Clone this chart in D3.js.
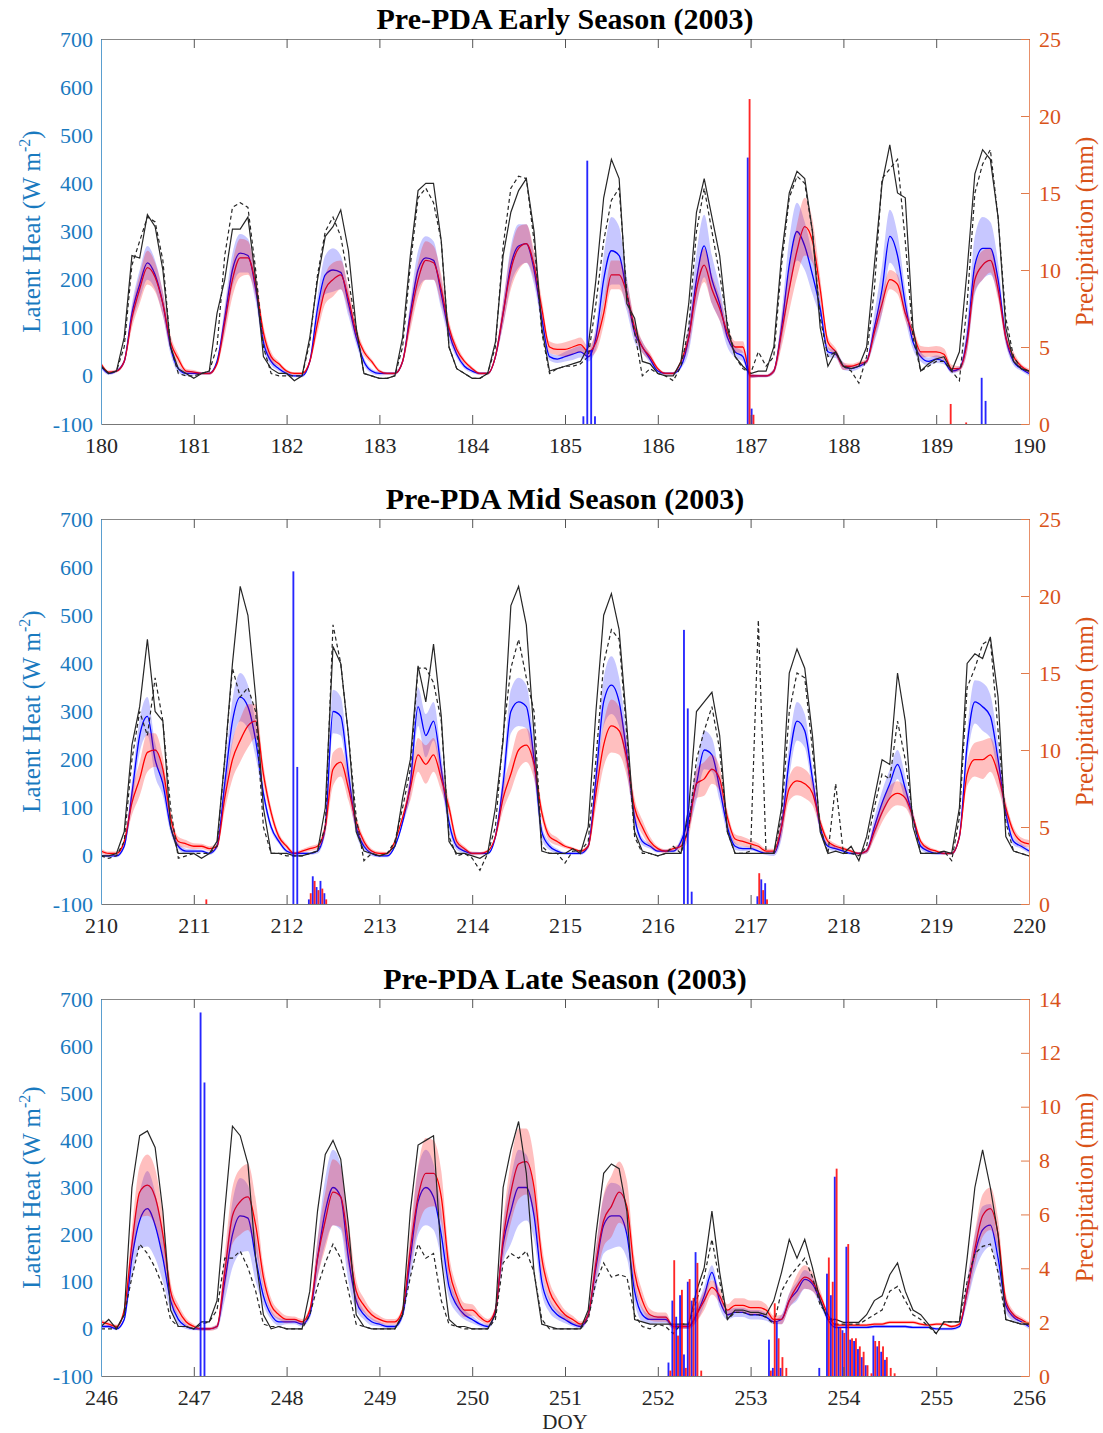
<!DOCTYPE html>
<html>
<head>
<meta charset="utf-8">
<script src="https://cdn.jsdelivr.net/npm/d3@7"></script>
<style>
  body { margin: 0; background: #fff; }
  svg text { font-family: "Liberation Serif", "Times New Roman", serif; }
</style>
</head>
<body>
<div id="chart"></div>
<script>
// ---- data: 2-hourly samples, 12 per day + closing point ----
const p1Title = "Pre-PDA Early Season (2003)";
const p1Obs = [
  20, 5, 10, 80, 250, 245, 335, 310, 220, 60, 15, 5,
  -5, 5, 10, 130, 200, 305, 305, 330, 200, 40, 15, 5,
  5, -10, 0, 80, 200, 290, 310, 345, 260, 100, 5, 0,
  -5, -5, 0, 80, 250, 385, 400, 400, 280, 60, 15, 5,
  -5, -5, 5, 70, 250, 340, 385, 410, 300, 100, 10, 15,
  20, 25, 30, 60, 200, 370, 450, 410, 150, 120, 30, 25,
  5, 0, 0, 30, 150, 340, 410, 330, 250, 100, 40, 20,
  5, 10, 10, 60, 250, 380, 425, 410, 300, 100, 20, 50,
  20, 15, 20, 60, 230, 400, 480, 380, 370, 100, 10, 25,
  35, 40, 10, 50, 220, 420, 470, 450, 330, 100, 30, 15,
  10];
const p1Dash = [
  20, 5, 10, 60, 230, 280, 330, 320, 240, 60, 5, 0,
  0, 5, 10, 60, 250, 350, 360, 350, 220, 60, 5, 0,
  0, 0, 0, 70, 210, 300, 330, 290, 200, 100, 5, 0,
  -5, -5, 0, 60, 230, 370, 390, 360, 280, 60, 15, 5,
  -5, -5, 5, 60, 270, 390, 415, 410, 280, 90, 5, 15,
  20, 20, 25, 40, 150, 280, 365, 390, 170, 90, 0, 15,
  5, 0, -10, 20, 100, 300, 390, 300, 210, 110, 40, 15,
  5, 50, 20, 40, 230, 370, 415, 400, 300, 120, 40, 50,
  20, 10, -15, 40, 180, 410, 430, 450, 280, 80, 10, 20,
  30, 30, 10, -10, 150, 380, 440, 470, 330, 120, 40, 15,
  10];
const p1Blue = [
  20, 5, 10, 30, 130, 190, 235, 210, 150, 60, 15, 5,
  5, 5, 5, 30, 120, 220, 255, 250, 180, 70, 30, 15,
  5, 0, 0, 30, 140, 210, 220, 215, 150, 80, 30, 10,
  5, 5, 5, 30, 130, 220, 245, 240, 170, 90, 45, 20,
  10, 5, 5, 40, 130, 230, 270, 275, 220, 120, 40, 35,
  40, 45, 50, 40, 80, 200, 260, 250, 170, 90, 60, 35,
  10, 5, 5, 20, 80, 200, 270, 200, 150, 80, 50, 40,
  0, 0, 0, 10, 100, 230, 300, 270, 210, 140, 50, 45,
  20, 15, 20, 30, 100, 180, 290, 250, 150, 70, 40, 30,
  35, 30, 10, 15, 80, 230, 265, 265, 200, 80, 30, 15,
  5];
const p1Red = [
  25, 8, 10, 30, 120, 180, 225, 205, 150, 70, 35, 10,
  8, 5, 5, 25, 110, 200, 245, 245, 190, 90, 40, 25,
  10, 5, 5, 30, 110, 180, 200, 210, 160, 90, 50, 30,
  10, 5, 5, 30, 120, 200, 240, 235, 180, 100, 55, 30,
  15, 5, 5, 40, 130, 220, 265, 275, 230, 140, 60, 55,
  55, 60, 65, 50, 70, 130, 210, 210, 170, 100, 60, 40,
  15, 5, 5, 30, 80, 180, 230, 180, 140, 90, 60, 60,
  0, 0, 0, 10, 90, 180, 260, 310, 280, 180, 70, 50,
  20, 20, 25, 30, 90, 150, 200, 190, 130, 90, 50, 50,
  50, 45, 15, 15, 70, 200, 230, 240, 180, 80, 40, 20,
  10];
const p1BlueSd = [
  5, 3, 3, 5, 20, 30, 35, 30, 25, 15, 8, 5,
  4, 3, 3, 5, 25, 35, 40, 35, 25, 15, 8, 5,
  4, 3, 3, 5, 25, 40, 45, 35, 25, 15, 8, 5,
  4, 3, 3, 5, 25, 40, 45, 40, 30, 15, 8, 5,
  4, 3, 3, 5, 25, 40, 45, 40, 30, 15, 8, 8,
  10, 12, 12, 10, 25, 50, 70, 60, 35, 20, 12, 8,
  4, 3, 3, 5, 30, 55, 65, 50, 35, 20, 12, 10,
  5, 3, 3, 5, 30, 55, 60, 50, 40, 20, 10, 8,
  8, 5, 5, 5, 30, 50, 55, 45, 30, 15, 10, 8,
  8, 6, 5, 5, 30, 60, 65, 55, 35, 15, 8, 5,
  5];
const p1RedSd = [
  5, 3, 3, 5, 20, 30, 35, 30, 25, 15, 10, 5,
  4, 3, 3, 5, 25, 35, 40, 35, 25, 15, 10, 5,
  4, 3, 3, 5, 20, 30, 35, 30, 25, 15, 8, 5,
  4, 3, 3, 5, 25, 35, 40, 35, 30, 15, 10, 5,
  4, 3, 3, 5, 25, 40, 45, 40, 30, 20, 12, 12,
  15, 15, 15, 12, 20, 25, 30, 30, 25, 18, 12, 8,
  4, 3, 3, 5, 20, 30, 35, 30, 25, 15, 12, 12,
  5, 3, 3, 5, 30, 45, 55, 60, 45, 25, 12, 8,
  8, 5, 5, 5, 15, 20, 20, 20, 15, 12, 12, 10,
  12, 12, 8, 5, 20, 25, 30, 25, 20, 12, 10, 5,
  5];
const p1RainBlueT = [185.208, 185.25, 185.292, 185.333, 186.979, 187.021, 189.5, 189.542];
const p1RainBlueV = [0.5, 17.1, 4.8, 0.5, 17.3, 1.0, 3.0, 1.5];
const p1RainRedT = [186.979, 187.021, 189.146, 189.313];
const p1RainRedV = [21.1, 0.6, 1.3, 0.1];

const p2Title = "Pre-PDA Mid Season (2003)";
const p2Obs = [
  0, 0, 5, 50, 230, 310, 450, 300, 280, 60, 5, 5,
  5, -5, 5, 30, 200, 400, 560, 500, 330, 100, 5, 5,
  5, 0, 0, 5, 10, 100, 435, 400, 250, 50, 10, 5,
  0, 5, 20, 120, 200, 395, 320, 440, 290, 30, 5, 5,
  0, -5, 5, 100, 240, 520, 560, 480, 250, 10, 5, 5,
  5, 15, 5, 60, 300, 500, 545, 470, 270, 50, 10, 5,
  0, 5, 5, 5, 100, 300, 320, 340, 250, 50, 5, 5,
  5, 5, 5, 5, 100, 380, 430, 390, 250, 50, 5, 10,
  5, 20, -10, 40, 120, 200, 190, 380, 280, 60, 5, 5,
  5, 10, 5, 100, 400, 420, 410, 455, 330, 40, 10, 5,
  0];
const p2Dash = [
  0, -5, 0, 30, 200, 300, 250, 370, 280, 100, -5, 0,
  5, 5, 5, 20, 200, 390, 330, 350, 300, 60, 5, 5,
  0, 0, 0, 5, 10, 60, 480, 400, 250, 80, -10, 5,
  0, 5, 30, 100, 180, 390, 390, 360, 280, 40, 0, 5,
  -5, -30, 5, 60, 250, 390, 450, 370, 300, 20, 5, 5,
  -15, 10, 10, 30, 200, 400, 470, 450, 250, 40, 5, 5,
  0, 5, 20, 5, 60, 200, 260, 310, 220, 50, 5, 5,
  10, 490, 5, 5, 80, 300, 380, 370, 220, 60, 5, 150,
  5, 5, 0, 20, 100, 170, 160, 280, 200, 80, 5, 5,
  5, 10, -10, 80, 350, 390, 440, 450, 260, 70, 10, 5,
  0];
const p2Blue = [
  0, 0, 0, 20, 130, 250, 290, 200, 150, 60, 20, 10,
  10, 10, 5, 20, 150, 280, 330, 310, 240, 130, 60, 30,
  10, 5, 5, 5, 10, 60, 300, 290, 170, 60, 20, 5,
  0, 0, 20, 70, 150, 310, 250, 280, 180, 70, 20, 10,
  5, 5, 5, 40, 150, 300, 320, 310, 200, 50, 20, 10,
  5, 5, 5, 20, 160, 320, 355, 320, 210, 80, 30, 20,
  10, 10, 10, 30, 80, 150, 220, 210, 140, 60, 20, 15,
  15, 10, 5, 5, 60, 200, 280, 260, 160, 60, 20, 15,
  10, 5, 5, 10, 60, 110, 150, 190, 140, 80, 20, 10,
  5, 5, 5, 40, 230, 320, 310, 290, 200, 90, 30, 20,
  10];
const p2Red = [
  10, 5, 5, 30, 110, 160, 215, 220, 180, 80, 30, 25,
  20, 20, 15, 20, 120, 200, 240, 270, 280, 170, 90, 40,
  20, 5, 10, 15, 20, 60, 180, 195, 140, 70, 30, 10,
  5, 5, 30, 80, 140, 210, 190, 210, 160, 100, 30, 15,
  5, 5, 10, 40, 120, 170, 220, 230, 190, 90, 40, 30,
  20, 15, 10, 20, 130, 230, 270, 260, 200, 100, 60, 30,
  15, 10, 15, 20, 60, 150, 160, 180, 160, 80, 35, 30,
  25, 20, 10, 10, 60, 140, 156, 150, 130, 70, 30, 20,
  15, 10, 5, 10, 50, 90, 120, 130, 120, 80, 30, 15,
  10, 5, 5, 40, 170, 200, 200, 210, 170, 100, 50, 30,
  25];
const p2BlueSd = [
  3, 3, 3, 5, 25, 35, 40, 35, 25, 12, 6, 5,
  4, 3, 3, 5, 30, 45, 50, 45, 35, 15, 8, 5,
  4, 3, 3, 3, 5, 15, 45, 40, 30, 15, 8, 5,
  3, 3, 3, 5, 25, 40, 45, 40, 30, 15, 8, 5,
  3, 3, 3, 5, 30, 45, 50, 45, 35, 15, 8, 5,
  3, 3, 3, 5, 30, 50, 60, 50, 35, 15, 8, 5,
  3, 3, 3, 10, 25, 35, 40, 35, 25, 15, 8, 5,
  4, 3, 3, 5, 25, 35, 40, 35, 25, 12, 6, 5,
  3, 3, 3, 5, 20, 25, 30, 30, 25, 12, 6, 5,
  3, 3, 3, 5, 30, 45, 50, 45, 35, 15, 8, 5,
  5];
const p2RedSd = [
  5, 4, 4, 5, 25, 35, 40, 35, 25, 15, 10, 8,
  6, 5, 5, 5, 25, 40, 45, 45, 35, 20, 12, 8,
  5, 4, 4, 5, 5, 15, 35, 30, 25, 15, 8, 5,
  4, 3, 3, 5, 25, 35, 40, 35, 25, 15, 10, 5,
  4, 3, 3, 5, 25, 35, 40, 35, 30, 15, 10, 8,
  4, 3, 3, 5, 30, 45, 55, 50, 35, 20, 15, 10,
  5, 4, 4, 8, 20, 30, 35, 30, 25, 15, 10, 10,
  8, 6, 5, 5, 20, 25, 30, 30, 25, 12, 8, 5,
  4, 3, 3, 5, 15, 20, 25, 25, 20, 12, 6, 5,
  3, 3, 3, 5, 25, 35, 40, 35, 30, 15, 10, 8,
  8];
const p2RainBlueT = [212.083, 212.125, 212.25, 212.292, 212.333, 212.375, 212.417, 216.292, 216.333, 216.375, 217.083, 217.125, 217.167];
const p2RainBlueV = [21.6, 8.9, 0.3, 1.8, 1.1, 1.5, 0.7, 17.8, 12.7, 0.8, 0.5, 1.6, 1.35];
const p2RainRedT = [211.125, 212.25, 212.292, 212.333, 212.375, 212.417, 217.083, 217.125, 217.167];
const p2RainRedV = [0.3, 0.7, 1.5, 0.9, 1.0, 0.3, 2.0, 0.9, 0.3];

const p3Title = "Pre-PDA Late Season (2003)";
const p3Obs = [
  5, 20, 0, 30, 300, 410, 420, 385, 250, 40, 5, 5,
  0, 15, 15, 60, 250, 430, 410, 350, 150, 30, 0, 5,
  0, 0, 0, 80, 250, 370, 400, 360, 220, 30, 5, 0,
  0, 0, 0, 30, 250, 390, 400, 410, 150, 20, 5, 5,
  0, 0, 0, 30, 300, 380, 440, 330, 120, 10, 5, 0,
  0, 0, 0, 40, 200, 330, 350, 340, 250, 20, 15, 10,
  10, 10, 10, 10, 10, 80, 130, 250, 120, 20, 40, 40,
  35, 35, 30, 60, 120, 190, 150, 190, 130, 60, 20, 20,
  14, 14, 14, 30, 60, 70, 115, 140, 80, 40, 30, 10,
  -10, 15, 15, 15, 150, 300, 380, 300, 200, 20, 15, 10,
  10];
const p3Dash = [
  0, 0, 0, 30, 110, 180, 160, 130, 90, 20, 5, 5,
  0, 10, 15, 40, 150, 150, 165, 130, 80, 10, 5, 5,
  0, 0, 0, 30, 90, 140, 180, 150, 80, 10, 5, 0,
  0, 0, 0, 30, 110, 180, 150, 160, 60, 10, 5, 0,
  0, 0, 0, 20, 140, 160, 150, 165, 120, 20, 0, 0,
  0, 0, 0, 20, 100, 140, 110, 115, 110, 30, 5, 0,
  10, 5, -10, 10, 10, 60, 110, 190, 100, 20, 35, 35,
  30, 30, 25, 10, 80, 110, 130, 150, 110, 50, 30, 10,
  10, 10, 10, 20, 30, 40, 80, 90, 60, 30, 20, 5,
  -10, 15, 15, 15, 100, 160, 175, 180, 120, 20, 15, 10,
  10];
const p3Blue = [
  5, 5, 0, 20, 150, 230, 255, 220, 150, 60, 20, 5,
  0, 0, 0, 5, 100, 200, 240, 235, 150, 70, 30, 15,
  15, 15, 10, 30, 150, 250, 300, 280, 150, 60, 30, 15,
  10, 5, 5, 30, 150, 270, 300, 280, 200, 90, 50, 30,
  20, 10, 5, 40, 180, 250, 300, 300, 240, 100, 50, 30,
  20, 10, 5, 30, 130, 220, 240, 240, 200, 80, 30, 20,
  20, 20, 5, 5, 5, 30, 70, 120, 60, 30, 35, 35,
  30, 30, 25, 15, 20, 60, 80, 105, 95, 60, 20, 3,
  3, 3, 3, 3, 5, 5, 5, 5, 5, 3, 3, 3,
  0, 0, 0, 5, 80, 160, 210, 220, 150, 50, 25, 15,
  5];
const p3Red = [
  15, 10, 5, 40, 180, 290, 305, 280, 200, 80, 40, 15,
  5, 0, 0, 5, 120, 240, 270, 280, 220, 110, 50, 30,
  20, 20, 15, 40, 150, 230, 290, 280, 180, 80, 50, 30,
  20, 15, 15, 40, 170, 280, 330, 330, 280, 130, 70, 40,
  40, 25, 15, 40, 190, 290, 350, 355, 300, 150, 80, 50,
  30, 20, 10, 30, 140, 230, 260, 290, 260, 120, 60, 30,
  25, 25, 5, 5, 5, 30, 60, 88, 70, 40, 50, 50,
  45, 45, 40, 20, 20, 60, 90, 110, 100, 70, 30, 8,
  8, 8, 8, 8, 10, 10, 14, 14, 14, 14, 10, 8,
  10, 10, 5, 10, 80, 170, 240, 255, 200, 60, 30, 20,
  10];
const p3BlueSd = [
  3, 3, 3, 5, 40, 60, 80, 70, 50, 20, 10, 5,
  3, 3, 3, 5, 40, 70, 80, 70, 50, 20, 10, 8,
  5, 5, 5, 8, 40, 70, 80, 70, 50, 20, 10, 8,
  5, 4, 4, 8, 40, 70, 80, 70, 50, 25, 15, 10,
  8, 5, 5, 8, 40, 70, 80, 70, 50, 25, 15, 10,
  8, 5, 5, 8, 40, 60, 70, 65, 50, 25, 15, 10,
  8, 8, 5, 5, 5, 15, 20, 15, 15, 10, 10, 10,
  10, 10, 8, 5, 10, 15, 20, 20, 15, 10, 5, 3,
  3, 3, 3, 3, 3, 3, 3, 3, 3, 3, 3, 3,
  3, 3, 3, 3, 25, 40, 50, 45, 35, 15, 8, 5,
  5];
const p3RedSd = [
  5, 4, 4, 8, 35, 55, 65, 60, 45, 20, 12, 8,
  5, 4, 4, 5, 40, 60, 70, 70, 55, 25, 15, 10,
  8, 6, 6, 8, 40, 60, 70, 65, 50, 25, 15, 10,
  8, 6, 6, 8, 40, 65, 75, 70, 55, 30, 20, 15,
  12, 8, 6, 8, 40, 65, 75, 70, 60, 30, 20, 15,
  10, 8, 6, 8, 35, 55, 65, 65, 55, 30, 20, 12,
  10, 10, 5, 5, 5, 15, 20, 15, 15, 12, 15, 15,
  15, 15, 12, 8, 10, 15, 25, 25, 20, 12, 5, 3,
  3, 3, 3, 3, 3, 3, 3, 3, 3, 3, 3, 3,
  3, 3, 3, 3, 20, 35, 45, 45, 35, 15, 8, 5,
  5];
const p3RainBlueT = [247.083, 247.125, 252.125, 252.167, 252.208, 252.25, 252.292, 252.333, 252.375, 252.417,
  253.208, 253.25, 253.292, 253.333, 253.75, 253.833, 253.875, 253.917, 253.958, 254.0, 254.042, 254.083,
  254.125, 254.167, 254.208, 254.25, 254.333, 254.375, 254.417, 254.458];
const p3RainBlueV = [13.5, 10.9, 0.5, 2.8, 2.2, 3.0, 0.8, 3.5, 2.8, 4.6,
  1.35, 0.3, 2.0, 0.3, 0.3, 3.8, 3.0, 7.4, 1.8, 1.7, 4.8, 1.35,
  1.3, 1.0, 0.7, 0.4, 1.5, 1.1, 0.9, 0.6];
const p3RainRedT = [252.125, 252.167, 252.208, 252.25, 252.292, 252.333, 252.375, 252.417, 252.458,
  253.208, 253.25, 253.292, 253.333, 253.375, 253.833, 253.875, 253.917, 253.958, 254.0, 254.042, 254.083,
  254.125, 254.167, 254.208, 254.25, 254.292, 254.333, 254.375, 254.417, 254.458, 254.5, 254.542];
const p3RainRedV = [0.2, 4.3, 1.5, 3.2, 0.3, 3.6, 2.9, 4.2, 0.2,
  0.2, 2.7, 1.4, 0.7, 0.3, 4.4, 3.5, 7.7, 1.8, 1.6, 4.9, 1.4,
  1.4, 1.1, 0.9, 0.4, 0.1, 1.3, 1.3, 1.1, 0.7, 0.3, 0.1];

const lhTicks = [-100, 0, 100, 200, 300, 400, 500, 600, 700];
const rainTicks25 = [0, 5, 10, 15, 20, 25];
const rainTicks14 = [0, 2, 4, 6, 8, 10, 12, 14];

// ---- drawing ----
const serif = '"Liberation Serif", "Times New Roman", serif';
const leftAxisColor = "#1a7abf";
const rightAxisColor = "#d95319";
const plotLeft = 101, plotRight = 1029;

const svg = d3.select("#chart")
    .append("svg")
        .attr("width", 1103)
        .attr("height", 1433);

const drawPanel = (p, idx) => {
    const x = d3.scaleLinear()
        .domain([p.start, p.start + 10])
        .range([plotLeft, plotRight]);

    const y = d3.scaleLinear()
        .domain([-100, 700])
        .range([p.bottom, p.top]);

    const yRain = d3.scaleLinear()
        .domain([0, d3.max(p.rainTicks)])
        .range([p.bottom, p.top]);

    const times = d3.range(p.obs.length).map(i => p.start + i / 12);
    const g = svg.append("g");

    const clipId = `clip${idx}`;
    g.append("clipPath")
        .attr("id", clipId)
      .append("rect")
        .attr("x", plotLeft)
        .attr("y", p.top)
        .attr("width", plotRight - plotLeft)
        .attr("height", p.bottom - p.top);

    const plot = g.append("g").attr("clip-path", `url(#${clipId})`);

    const line = vals => d3.line()
        .x((d, i) => x(times[i]))
        .y(d => y(d))(vals);

    const smooth = vals => d3.line()
        .x((d, i) => x(times[i]))
        .y(d => y(d))
        .curve(d3.curveMonotoneX)(vals);

    const band = (vals, sd) => d3.area()
        .x((d, i) => x(times[i]))
        .y0((d, i) => y(d - sd[i]))
        .y1((d, i) => y(d + sd[i]))
        .curve(d3.curveMonotoneX)(vals);

    plot.append("path")
        .attr("d", smooth(p.blue))
        .attr("fill", "none")
        .attr("stroke", "#0000ff")
        .attr("stroke-width", 1.3);

    plot.append("path")
        .attr("d", smooth(p.red))
        .attr("fill", "none")
        .attr("stroke", "#ff0000")
        .attr("stroke-width", 1.3);

    plot.append("path")
        .attr("d", band(p.blue, p.blueSd))
        .attr("fill", "#0000ff")
        .attr("fill-opacity", 0.22);

    plot.append("path")
        .attr("d", band(p.red, p.redSd))
        .attr("fill", "#ff0000")
        .attr("fill-opacity", 0.25);

    plot.append("path")
        .attr("d", line(p.obs))
        .attr("fill", "none")
        .attr("stroke", "#262626")
        .attr("stroke-width", 1.2);

    plot.append("path")
        .attr("d", line(p.dash))
        .attr("fill", "none")
        .attr("stroke", "#262626")
        .attr("stroke-width", 1.2)
        .attr("stroke-dasharray", "4,3");

    // precipitation bars, blue left and red right of each hourly slot
    const slotW = (x(p.start + 1 / 24) - x(p.start)) * 0.48;

    plot.selectAll(".rainBlue")
        .data(p.rainBlueT.map((t, i) => ({ t, v: p.rainBlueV[i] })))
        .enter().append("rect")
            .attr("x", d => x(d.t) - slotW)
            .attr("y", d => yRain(d.v))
            .attr("width", slotW)
            .attr("height", d => yRain(0) - yRain(d.v))
            .attr("fill", "#0000ff")
            .attr("fill-opacity", 0.85);

    plot.selectAll(".rainRed")
        .data(p.rainRedT.map((t, i) => ({ t, v: p.rainRedV[i] })))
        .enter().append("rect")
            .attr("x", d => x(d.t))
            .attr("y", d => yRain(d.v))
            .attr("width", slotW)
            .attr("height", d => yRain(0) - yRain(d.v))
            .attr("fill", "#ff0000")
            .attr("fill-opacity", 0.85);

    // axes
    const xAxisGroup = g.append("g")
        .attr("transform", `translate(0,${p.bottom})`)
        .call(d3.axisBottom(x)
            .tickValues(d3.range(p.start, p.start + 11))
            .tickSizeInner(-9)
            .tickSizeOuter(0)
            .tickPadding(13)
            .tickFormat(d => String(d)));

    xAxisGroup.selectAll("line").style("stroke", "#555");
    xAxisGroup.selectAll("path").style("stroke", "#777");
    xAxisGroup.selectAll("text")
        .style("fill", "#262626")
        .style("font-family", serif)
        .style("font-size", "22px");

    const topAxisGroup = g.append("g")
        .attr("transform", `translate(0,${p.top})`)
        .call(d3.axisTop(x)
            .tickValues(d3.range(p.start, p.start + 11))
            .tickSizeInner(-9)
            .tickSizeOuter(0)
            .tickFormat(""));

    topAxisGroup.selectAll("line").style("stroke", "#555");
    topAxisGroup.selectAll("path").style("stroke", "#888");

    const yAxisGroup = g.append("g")
        .attr("transform", `translate(${plotLeft},0)`)
        .call(d3.axisLeft(y)
            .tickValues(lhTicks)
            .tickSizeInner(0)
            .tickSizeOuter(0)
            .tickPadding(8)
            .tickFormat(d => String(d)));

    yAxisGroup.selectAll("path").style("stroke", "#5a9fd0");
    yAxisGroup.selectAll("text")
        .style("fill", leftAxisColor)
        .style("font-family", serif)
        .style("font-size", "22px");

    const yRainGroup = g.append("g")
        .attr("transform", `translate(${plotRight},0)`)
        .call(d3.axisRight(yRain)
            .tickValues(p.rainTicks)
            .tickSizeInner(-8)
            .tickSizeOuter(0)
            .tickPadding(10)
            .tickFormat(d => String(d)));

    yRainGroup.selectAll("line").style("stroke", "#e07a4a");
    yRainGroup.selectAll("path").style("stroke", "#e8906a");
    yRainGroup.selectAll("text")
        .style("fill", rightAxisColor)
        .style("font-family", serif)
        .style("font-size", "22px");

    const midY = (p.top + p.bottom) / 2;

    const lhLabel = g.append("text")
        .attr("transform", `translate(40,${midY}) rotate(-90)`)
        .attr("text-anchor", "middle")
        .style("font-family", serif)
        .style("font-size", "25px")
        .style("fill", leftAxisColor);
    lhLabel.append("tspan").text("Latent Heat (W m");
    lhLabel.append("tspan")
        .attr("dy", -10)
        .style("font-size", "16px")
        .text("-2");
    lhLabel.append("tspan")
        .attr("dy", 10)
        .text(")");

    g.append("text")
        .attr("transform", `translate(1093,${midY}) rotate(-90)`)
        .attr("text-anchor", "middle")
        .style("font-family", serif)
        .style("font-size", "25px")
        .style("fill", rightAxisColor)
        .text("Precipitation (mm)");

    g.append("text")
        .attr("x", (plotLeft + plotRight) / 2)
        .attr("y", p.top - 10)
        .attr("text-anchor", "middle")
        .style("font-family", serif)
        .style("font-size", "30px")
        .style("font-weight", "bold")
        .style("fill", "#000")
        .text(p.title);

    if (p.xLabel) {
        g.append("text")
            .attr("x", (plotLeft + plotRight) / 2)
            .attr("y", p.bottom + 53)
            .attr("text-anchor", "middle")
            .style("font-family", serif)
            .style("font-size", "21px")
            .style("fill", "#262626")
            .text(p.xLabel);
    }
};

drawPanel({
    title: p1Title, start: 180, top: 39, bottom: 424, rainTicks: rainTicks25,
    obs: p1Obs, dash: p1Dash, blue: p1Blue, red: p1Red, blueSd: p1BlueSd, redSd: p1RedSd,
    rainBlueT: p1RainBlueT, rainBlueV: p1RainBlueV, rainRedT: p1RainRedT, rainRedV: p1RainRedV
}, 1);

drawPanel({
    title: p2Title, start: 210, top: 519, bottom: 904, rainTicks: rainTicks25,
    obs: p2Obs, dash: p2Dash, blue: p2Blue, red: p2Red, blueSd: p2BlueSd, redSd: p2RedSd,
    rainBlueT: p2RainBlueT, rainBlueV: p2RainBlueV, rainRedT: p2RainRedT, rainRedV: p2RainRedV
}, 2);

drawPanel({
    title: p3Title, start: 246, top: 999, bottom: 1376, rainTicks: rainTicks14,
    obs: p3Obs, dash: p3Dash, blue: p3Blue, red: p3Red, blueSd: p3BlueSd, redSd: p3RedSd,
    rainBlueT: p3RainBlueT, rainBlueV: p3RainBlueV, rainRedT: p3RainRedT, rainRedV: p3RainRedV,
    xLabel: "DOY"
}, 3);
</script>
</body>
</html>
